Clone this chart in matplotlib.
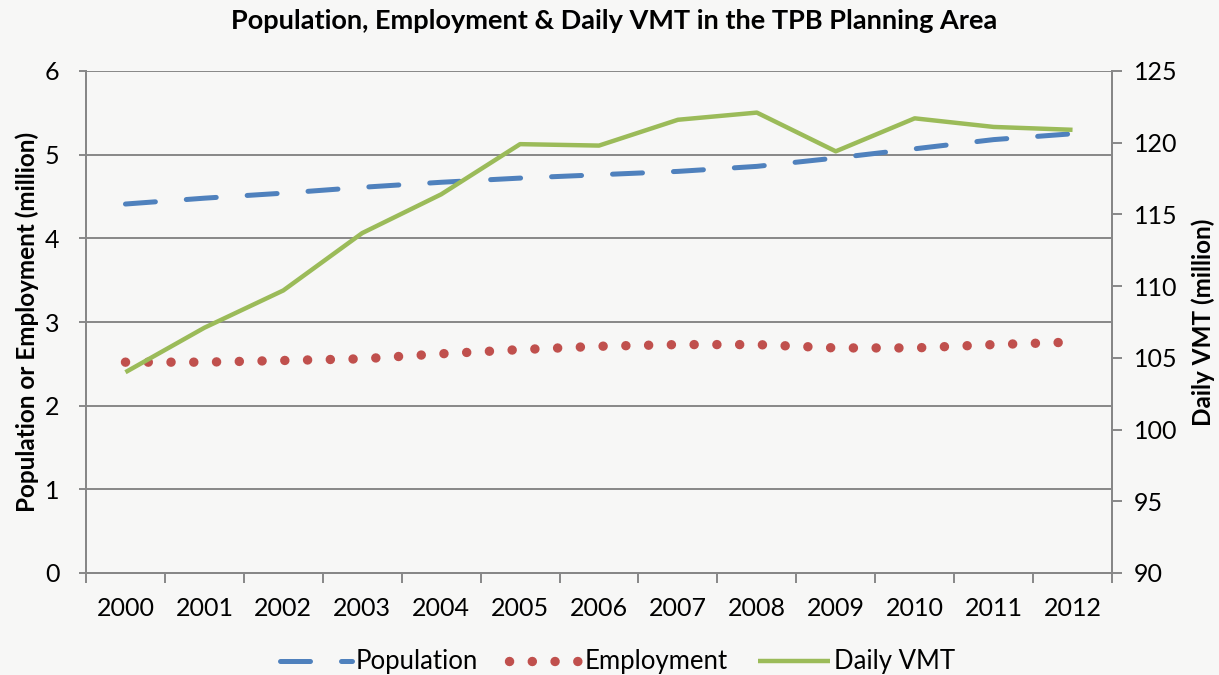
import matplotlib
matplotlib.use("Agg")
import matplotlib.pyplot as plt
from matplotlib.ticker import FixedLocator, NullFormatter, FixedFormatter

plt.rcParams['font.family'] = ['Lato', 'DejaVu Sans']

years = ['2000', '2001', '2002', '2003', '2004', '2005', '2006',
         '2007', '2008', '2009', '2010', '2011', '2012']
population = [4.41, 4.48, 4.54, 4.61, 4.67, 4.72, 4.76, 4.80, 4.86, 4.96, 5.07, 5.18, 5.25]
employment = [2.52, 2.52, 2.54, 2.56, 2.62, 2.67, 2.71, 2.73, 2.73, 2.69, 2.69, 2.73, 2.76]
daily_vmt = [104.0, 107.1, 109.7, 113.7, 116.4, 119.9, 119.8, 121.6, 122.1, 119.4, 121.7, 121.1, 120.9]

left_ticks = [0, 1, 2, 3, 4, 5, 6]
right_ticks = [90, 95, 100, 105, 110, 115, 120, 125]

BG = '#f7f7f6'
GRID = '#878787'

fig = plt.figure(figsize=(12.19, 6.75), dpi=100, facecolor=BG)
ax = fig.add_axes([86/1219, 102/675, 1026/1219, 502/675])
ax.set_facecolor(BG)
ax2 = ax.twinx()

x = list(range(len(years)))

ln_pop, = ax.plot(x, population, color='#4F81BD', lw=3.6,
                  linestyle=(0, (6.0, 6.2)), dash_capstyle='round', zorder=3)
ln_emp, = ax.plot(x, employment, color='#C0504D', lw=6.8,
                  linestyle=(0, (0.01, 2.4)), dash_capstyle='round', zorder=3)
ln_vmt, = ax2.plot(x, daily_vmt, color='#9BBB59', lw=3.2, zorder=3,
                   solid_capstyle='butt')

ax.set_xlim(-0.5, len(years) - 0.5)
ax.set_ylim(0, 6)
ax2.set_ylim(90, 125)

ax.set_yticks(left_ticks)
ax2.set_yticks(right_ticks)
ax.yaxis.grid(True, color=GRID, lw=1.4)
ax.set_axisbelow(True)

ax.xaxis.set_major_locator(FixedLocator([i - 0.5 for i in range(len(years) + 1)]))
ax.xaxis.set_major_formatter(NullFormatter())
ax.xaxis.set_minor_locator(FixedLocator(x))
ax.xaxis.set_minor_formatter(FixedFormatter(years))
ax.tick_params(axis='x', which='major', length=7, width=1.4, color=GRID, direction='out')
ax.tick_params(axis='x', which='minor', length=0, pad=17, labelsize=18)
ax.tick_params(axis='y', length=5, width=1.4, color=GRID, labelsize=18, pad=14)
ax2.tick_params(axis='y', length=7, width=1.4, color=GRID, labelsize=18, pad=9)

for a in (ax, ax2):
    for s in a.spines.values():
        s.set_color(GRID)
        s.set_linewidth(1.4)
    a.spines['top'].set_visible(False)

ax.set_ylabel('Population or Employment (million)', fontsize=17.5, fontweight='bold', labelpad=4)
ax2.set_ylabel('Daily VMT (million)', fontsize=17.5, fontweight='bold', labelpad=10)

fig.suptitle('Population, Employment & Daily VMT in the TPB Planning Area',
             x=614/1219, y=1 - 21/675, va='center', fontsize=19.5, fontweight='bold')

fig.legend([ln_pop, ln_emp, ln_vmt], ['Population', 'Employment', 'Daily VMT'],
           loc='center', bbox_to_anchor=(617.5/1219, 1 - 662/675), ncol=3, frameon=False,
           fontsize=18.5, handlelength=2.8, handletextpad=0.15, columnspacing=1.2)

fig.savefig('out.png', dpi=100, facecolor=BG)
